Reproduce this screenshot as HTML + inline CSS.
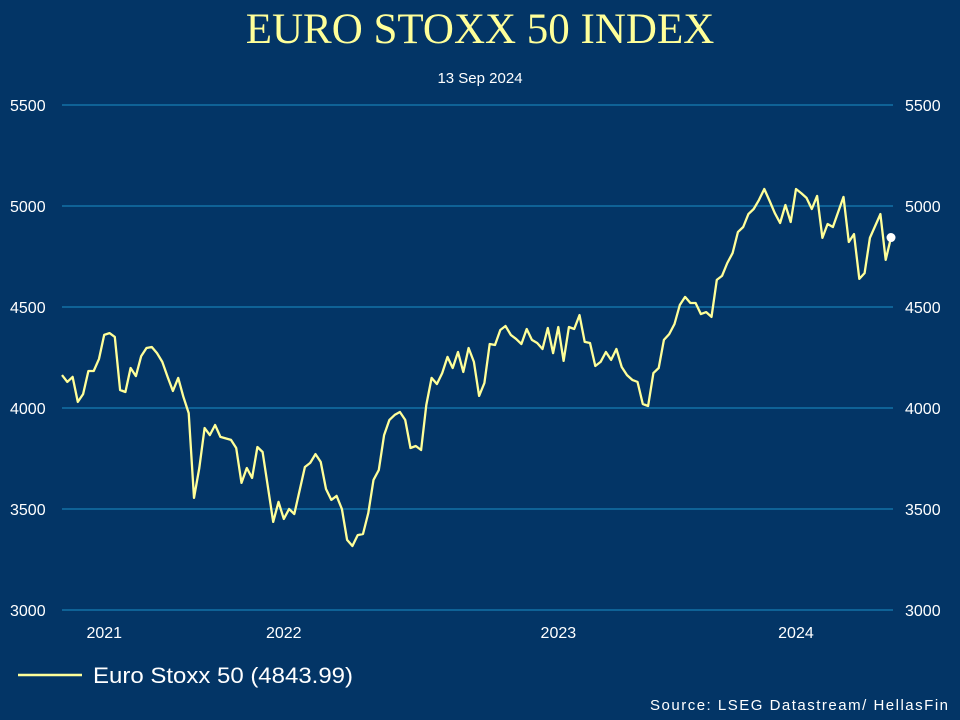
<!DOCTYPE html>
<html><head><meta charset="utf-8"><style>
body{margin:0;background:#033566;}
#c{width:960px;height:720px;position:relative;background:#033566;overflow:hidden;font-family:"Liberation Sans",sans-serif;}
</style></head><body>
<div id="c">
<svg id="s" width="960" height="720">
<text x="480" y="43" text-anchor="middle" fill="#ffff99" font-family="Liberation Serif,serif" font-size="43">EURO STOXX 50 INDEX</text>
<text x="480" y="83" text-anchor="middle" fill="#ffffff" font-size="15">13 Sep 2024</text>
<line x1="18" y1="675" x2="82" y2="675" stroke="#ffff99" stroke-width="2.5"/>
<text x="93" y="683" fill="#ffffff" font-size="22" textLength="260" lengthAdjust="spacingAndGlyphs">Euro Stoxx 50 (4843.99)</text>
<text x="650" y="710" fill="#ffffff" font-size="15" textLength="298" lengthAdjust="spacing">Source: LSEG Datastream/ HellasFin</text>
<g id="grid"></g><g id="ticks"></g><g id="series"></g>
</svg>
</div>
<script>
const weeks=[0,1,2,3,4,5,6,7,8,9,10,11,12,13,14,15,16,17,18,19,20,21,22,23,24,25,26,27,28,29,30,32,33,34,35,36,37,38,40,41,42,43,44,46,47,48,49,50,51,52,53,54,55,56,57,58,59,60,61,62,63,64,65,66,67,68,69,70,71,72,73,74,75,76,77,78,79,80,81,82,83,84,85,86,87,88,89,90,91,92,93,94,95,96,97,98,99,100,101,102,103,104,105,106,107,108,109,110,111,112,113,114,115,116,117,118,119,120,121,122,123,124,125,126,127,128,129,130,131,132,133,134,135,136,137,138,139,140,141,142,143,144,145,146,148,149,150,151,152,153,155,156,157];
const values=[4163,4129,4154,4030,4069,4183,4183,4243,4362,4371,4352,4089,4079,4198,4158,4257,4297,4302,4272,4228,4154,4084,4149,4055,3975,3555,3703,3901,3866,3916,3857,3842,3802,3629,3703,3654,3807,3782,3436,3535,3451,3500,3475,3708,3728,3772,3733,3599,3545,3565,3500,3347,3317,3371,3376,3480,3644,3693,3866,3941,3966,3980,3941,3802,3812,3792,4015,4149,4119,4173,4253,4198,4277,4178,4297,4228,4060,4124,4317,4312,4386,4406,4362,4342,4317,4391,4337,4322,4292,4396,4272,4401,4233,4401,4391,4460,4327,4322,4208,4228,4277,4238,4292,4203,4163,4139,4129,4020,4010,4173,4198,4337,4366,4416,4510,4550,4520,4520,4465,4475,4451,4634,4654,4718,4767,4871,4896,4960,4985,5030,5084,5025,4965,4916,5005,4921,5084,5064,5040,4985,5050,4842,4911,4896,5045,4822,4861,4639,4668,4842,4960,4733,4844];
const yTicks=[3000,3500,4000,4500,5000,5500];
const xTickLabels=["2021","2022","2023","2024"];
const xTickWeeks=[8,42,94,139];
const NS="http://www.w3.org/2000/svg";
const X0=62,X1=891,W0=0,W1=157,Y0=610,Y1=105,V0=3000,V1=5500;
const xs=w=>X0+(w-W0)*(X1-X0)/(W1-W0);
const ys=v=>Y0-(v-V0)*(Y0-Y1)/(V1-V0);
function mk(t,a,p){const e=document.createElementNS(NS,t);for(const k in a)e.setAttribute(k,a[k]);p.appendChild(e);return e;}
const grid=document.getElementById('grid'),ticks=document.getElementById('ticks'),series=document.getElementById('series');
yTicks.forEach(v=>{
 const l=mk('line',{x1:62,x2:893,y1:ys(v),y2:ys(v),stroke:'#1b90c6','stroke-width':1},grid);
 
 
 const a=mk('text',{x:10,y:ys(v)+6,fill:'#ffffff','font-size':16},ticks);a.textContent=v;
 
 
 const b=mk('text',{x:905,y:ys(v)+6,fill:'#ffffff','font-size':16},ticks);b.textContent=v;
 
 
});
xTickLabels.forEach((s,i)=>{
 const t=mk('text',{x:xs(xTickWeeks[i]),y:638,fill:'#ffffff','font-size':16,'text-anchor':'middle'},ticks);t.textContent=s;
 
 
});
const d=weeks.map((w,i)=>(i?'L':'M')+xs(w).toFixed(1)+','+ys(values[i]).toFixed(1)).join('');
const p=mk('path',{d:d,fill:'none',stroke:'#ffff99','stroke-width':2.3,'stroke-linejoin':'round'},series);


const n=weeks.length-1;
const dot=mk('circle',{cx:xs(weeks[n]),cy:ys(values[n]),r:4.5,fill:'#ffffff'},series);


</script>
</body></html>
